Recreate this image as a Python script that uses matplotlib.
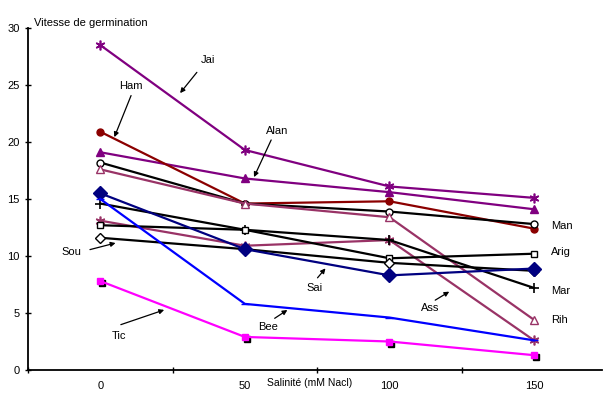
import matplotlib.pyplot as plt
from matplotlib.transforms import ScaledTranslation

plt.rcParams['font.family'] = ['Liberation Sans', 'DejaVu Sans']

# Salinity levels (categories) and germination speed per variety
salinite = ["0", "50", "100", "150"]

jai = [28.5, 19.3, 16.1, 15.1]
alan = [19.1, 16.8, 15.6, 14.1]
ham = [20.9, 14.6, 14.8, 12.4]
man = [18.2, 14.6, 13.9, 12.8]
rih = [17.6, 14.6, 13.4, 4.4]
ass = [13.1, 10.9, 11.4, 2.6]
mar = [14.6, 12.3, 11.4, 7.2]
arig = [12.7, 12.3, 9.8, 10.2]
sou = [11.6, 10.6, 9.4, 8.7]
sai = [15.5, 10.6, 8.3, 8.9]
bee = [15.0, 5.8, 4.6, 2.6]
tic = [7.8, 2.9, 2.5, 1.3]

x = list(range(len(salinite)))
asterisk = (6, 2, 0)

fig = plt.figure(figsize=(6.14, 3.93), dpi=100)
ax = fig.add_axes([28 / 614, 23 / 393, 574 / 614, 342 / 393])

lw = 1.6
ax.plot(x, jai, color="#800080", lw=lw, marker=asterisk, ms=7, mew=1.2)
ax.plot(x, alan, color="#800080", lw=lw, marker="^", ms=6)
ax.plot(x, ham, color="#8B0000", lw=lw, marker="o", ms=5)
ax.plot(x, man, color="black", lw=lw, marker="o", ms=5, mfc="white")
ax.plot(x, rih, color="#993366", lw=lw, marker="^", ms=6, mfc="white")
ax.plot(x, ass, color="#993366", lw=lw, marker=asterisk, ms=7, mew=1.2)
ax.plot(x, mar, color="black", lw=lw, marker="+", ms=7, mew=1.2)
ax.plot(x, arig, color="black", lw=lw, marker="s", ms=5, mfc="white")
ax.plot(x, sou, color="black", lw=lw, marker="D", ms=5, mfc="white")
ax.plot(x, sai, color="#000080", lw=lw, marker="D", ms=7)
ax.plot(x, bee, color="#0000FF", lw=lw, marker="_", ms=6)
# dark shadow behind the Tic squares
shift = ax.transData + ScaledTranslation(2 / 100, -2 / 100, fig.dpi_scale_trans)
ax.plot(x, tic, color="black", lw=0, marker="s", ms=5, transform=shift)
ax.plot(x, tic, color="#FF00FF", lw=lw, marker="s", ms=5)

# arrows with labels
arrows = [
    ("Jai", (0.745, 27.2), (0.68, 26.3), (0.54, 24.1)),
    ("Ham", (0.21, 24.9), (0.22, 24.3), (0.09, 20.2)),
    ("Alan", (1.22, 21.0), (1.19, 20.4), (1.055, 16.7)),
    ("Sou", (-0.2, 10.35), (-0.09, 10.5), (0.124, 11.2)),
    ("Tic", (0.13, 3.0), (0.124, 3.9), (0.46, 5.35)),
    ("Bee", (1.16, 3.8), (1.19, 4.4), (1.31, 5.4)),
    ("Sai", (1.48, 7.2), (1.49, 7.9), (1.57, 9.1)),
    ("Ass", (2.28, 5.4), (2.30, 6.0), (2.43, 7.0)),
]
for name, tpos, tail, head in arrows:
    ax.text(tpos[0], tpos[1], name, ha="center", va="center", fontsize=8)
    ax.annotate("", xy=head, xytext=tail,
                arrowprops=dict(arrowstyle="-|>", color="black", lw=0.9,
                                mutation_scale=7))

for name, ypos in [("Man", 12.6), ("Arig", 10.35), ("Mar", 6.9), ("Rih", 4.4)]:
    ax.text(3.12, ypos, name, ha="left", va="center", fontsize=8)

ax.set_xlim(-0.5, 3.47)
ax.set_ylim(0, 30)
ax.set_yticks(range(0, 31, 5))
ax.set_xticks([-0.5, 0.5, 1.5, 2.5])
ax.set_xticklabels([])
ax.set_xticks(x, minor=True)
ax.set_xticklabels(salinite, minor=True)
ax.tick_params(axis="x", which="minor", length=0, pad=8, labelsize=8)
ax.tick_params(axis="both", which="major", direction="inout", length=5,
               width=1, labelsize=8)

for s in ["top", "right"]:
    ax.spines[s].set_visible(False)
ax.spines["left"].set_linewidth(1.3)
ax.spines["bottom"].set_linewidth(1.3)

ax.text(0.01, 1.0, "Vitesse de germination", transform=ax.transAxes,
        ha="left", va="bottom", fontsize=8)
ax.text(0.49, -0.022, "Salinité (mM Nacl)", transform=ax.transAxes,
        ha="center", va="top", fontsize=7.5)

fig.savefig("out.png", dpi=100)
